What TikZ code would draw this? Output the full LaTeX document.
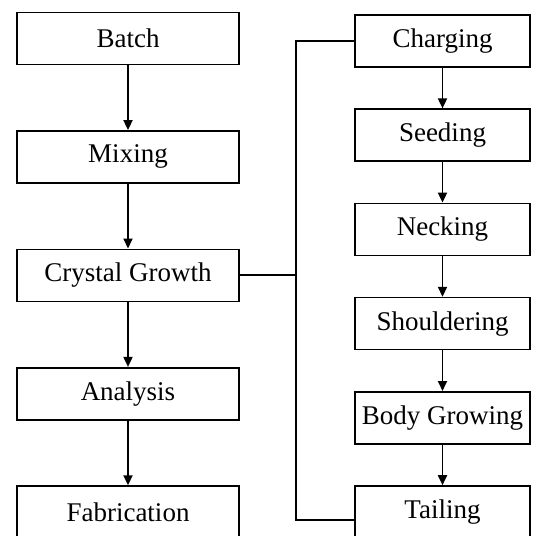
\documentclass[tikz,border=0pt]{standalone}
\usepackage{fontspec}
\setmainfont{Liberation Serif}
\usetikzlibrary{arrows.meta, positioning}

\begin{document}
\begin{tikzpicture}[node distance=59.2pt,on grid,
    font=\fontsize{13.5}{16}\selectfont,>={Triangle[length=5pt,width=4.5pt]}]
    \tikzstyle{stage}=[shape=rectangle,draw,line width=0.8pt,minimum width=111pt,minimum height=26pt,inner sep=2pt]
    \tikzstyle{substage}=[stage,minimum width=87.5pt]

    \useasboundingbox (0,0) rectangle (268pt,-268pt);
    \clip (0,0) rectangle (268pt,-268pt);

    % main process
    \node[stage] (batch) at (64pt,-19.25pt) {Batch};
    \node[stage,below=of batch] (mixing) {Mixing};
    \node[stage,below=of mixing] (growth) {Crystal Growth};
    \node[stage,below=of growth] (analysis) {Analysis};
    \node[stage,below=of analysis] (fabrication) {Fabrication};

    % crystal growth steps
    \node[substage] (charging) at (221.25pt,-20.5pt) {Charging};
    \node[substage,below=47.1pt of charging] (seeding) {Seeding};
    \node[substage,below=47.1pt of seeding] (necking) {Necking};
    \node[substage,below=47.1pt of necking] (shouldering) {Shouldering};
    \node[substage,below=47.1pt of shouldering] (body) {Body Growing};
    \node[substage,below=47.1pt of body] (tailing) {Tailing};

    \coordinate (bus) at (148pt,0pt);

    \path[->,draw,line width=0.9pt]
    (batch) edge (mixing)
    (mixing) edge (growth)
    (growth) edge (analysis)
    (analysis) edge (fabrication)
    (charging) edge (seeding)
    (seeding) edge (necking)
    (necking) edge (shouldering)
    (shouldering) edge (body)
    (body) edge (tailing)
   ;
   \draw[line width=0.9pt] (growth.east) -- (growth.east -| bus) |- (charging.west);
   \draw[line width=0.9pt] (growth.east -| bus) |- ([yshift=-4pt]tailing.west);

\end{tikzpicture}
\end{document}
